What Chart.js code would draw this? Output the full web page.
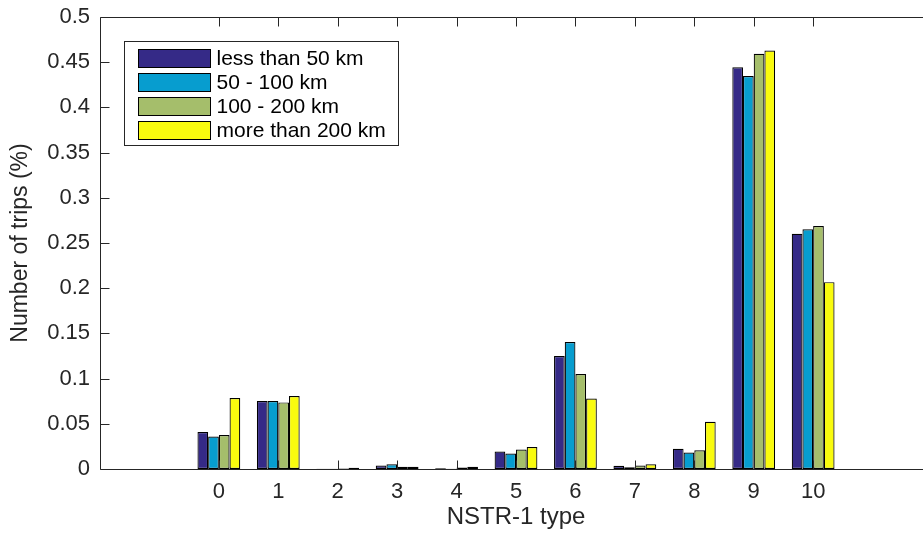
<!DOCTYPE html>
<html>
<head>
<meta charset="utf-8">
<script src="https://cdn.jsdelivr.net/npm/chart.js@4.4.1/dist/chart.umd.min.js"></script>
<style>
html, body { margin: 0; padding: 0; background: #fff; overflow: hidden; }
#wrap { width: 923px; height: 536px; overflow: hidden; }
</style>
</head>
<body>
<div id="wrap"><canvas id="myChart" width="935" height="536"></canvas></div>
<script>
// NSTR-1 goods type on the x axis
const categories = [0, 1, 2, 3, 4, 5, 6, 7, 8, 9, 10];
const seriesNames = ['less than 50 km', '50 - 100 km', '100 - 200 km', 'more than 200 km'];
const seriesColors = ['#352a87', '#079dcf', '#a5be6b', '#f9fb0e'];

// share of trips per distance class
const lessThan50 = [0.0408, 0.0751, 0.0004, 0.0039, 0.0007, 0.0194, 0.125, 0.0035, 0.0224, 0.4443, 0.2602];
const from50to100 = [0.036, 0.0751, 0.0003, 0.0053, 0.0004, 0.0172, 0.1405, 0.002, 0.0183, 0.4347, 0.2651];
const from100to200 = [0.0375, 0.0737, 0.0006, 0.0024, 0.0017, 0.0216, 0.105, 0.0039, 0.0208, 0.4593, 0.2688];
const moreThan200 = [0.0785, 0.0807, 0.0015, 0.0024, 0.0024, 0.0242, 0.078, 0.0053, 0.0523, 0.463, 0.2067];

const yTicks = [0, 0.05, 0.1, 0.15, 0.2, 0.25, 0.3, 0.35, 0.4, 0.45, 0.5];
const yTickLabels = ['0', '0.05', '0.1', '0.15', '0.2', '0.25', '0.3', '0.35', '0.4', '0.45', '0.5'];

const axisColor = '#262626';
const fontFamily = '"Liberation Sans", Arial, Helvetica, sans-serif';
Chart.defaults.font.family = fontFamily;
Chart.defaults.font.size = 22;
Chart.defaults.color = axisColor;

const allSeries = [lessThan50, from50to100, from100to200, moreThan200];
const datasets = allSeries.map((vals, i) => ({
    label: seriesNames[i],
    data: categories.map((c, j) => ({x: c, y: vals[j]})),
    backgroundColor: seriesColors[i],
    borderColor: '#000',
    borderWidth: 1.2,
    borderSkipped: false,
    categoryPercentage: 0.72,
    barPercentage: 1.0
}));

// matlab style box with inward ticks
const axisBox = {
    id: 'axisBox',
    afterDatasetsDraw(chart) {
        const {ctx, chartArea: a, scales: {x, y}} = chart;
        const tl = 9;
        const L = Math.round(a.left) + 0.5, R = Math.round(a.right) + 0.5;
        const T = Math.round(a.top) + 0.5, B = Math.round(a.bottom) + 0.5;
        ctx.save();
        ctx.strokeStyle = axisColor;
        ctx.lineWidth = 1;
        ctx.beginPath();
        ctx.moveTo(L, T); ctx.lineTo(R, T); ctx.lineTo(R, B); ctx.lineTo(L, B); ctx.closePath();
        x.ticks.forEach(t => {
            const px = Math.round(x.getPixelForValue(t.value)) + 0.5;
            ctx.moveTo(px, B); ctx.lineTo(px, B - tl);
            ctx.moveTo(px, T); ctx.lineTo(px, T + tl);
        });
        y.ticks.forEach(t => {
            const py = Math.round(y.getPixelForValue(t.value)) + 0.5;
            ctx.moveTo(L, py); ctx.lineTo(L + tl, py);
            ctx.moveTo(R, py); ctx.lineTo(R - tl, py);
        });
        ctx.stroke();
        ctx.restore();
    }
};

// legend box drawn inside the axes, top left
const boxLegend = {
    id: 'boxLegend',
    afterDraw(chart) {
        const {ctx, chartArea: a} = chart;
        const bx = Math.round(a.left + 24) + 0.5, by = Math.round(a.top + 24) + 0.5;
        const bw = 274, bh = 104;
        ctx.save();
        ctx.fillStyle = '#fff';
        ctx.fillRect(bx, by, bw, bh);
        ctx.strokeStyle = axisColor;
        ctx.lineWidth = 1;
        ctx.strokeRect(bx, by, bw, bh);
        ctx.font = '21px ' + fontFamily;
        ctx.textBaseline = 'middle';
        ctx.textAlign = 'left';
        chart.data.datasets.forEach((ds, i) => {
            const sx = bx + 14, sy = by + 8 + i * 24;
            ctx.fillStyle = ds.backgroundColor;
            ctx.fillRect(sx, sy, 72, 18);
            ctx.strokeStyle = '#000';
            ctx.strokeRect(sx, sy, 72, 18);
            ctx.fillStyle = '#000';
            ctx.fillText(ds.label, sx + 78, sy + 10);
        });
        ctx.restore();
    }
};

const ctx = document.getElementById('myChart').getContext('2d');
const myChart = new Chart(ctx, {
    type: 'bar',
    data: {datasets: datasets},
    options: {
        responsive: false,
        animation: false,
        layout: {padding: {top: 17, right: 3, left: 0, bottom: 0}},
        plugins: {legend: {display: false}, tooltip: {enabled: false}},
        scales: {
            x: {
                type: 'linear',
                min: -2,
                max: 12,
                offset: false,
                grid: {display: false, drawTicks: false, offset: false},
                border: {display: false},
                afterBuildTicks: (s) => { s.ticks = categories.map(v => ({value: v})); },
                afterFit: (s) => { s.height = 67; s.paddingLeft = 0; s.paddingRight = 0; },
                ticks: {padding: 10, maxRotation: 0, autoSkip: false, callback: (v) => String(v)},
                title: {display: true, text: 'NSTR-1 type', font: {size: 24}, padding: {top: 0, bottom: 4}}
            },
            y: {
                min: 0,
                max: 0.5,
                grid: {display: false, drawTicks: false},
                border: {display: false},
                afterBuildTicks: (s) => { s.ticks = yTicks.map(v => ({value: v})); },
                afterFit: (s) => { s.width = 100; s.paddingTop = 0; s.paddingBottom = 0; },
                ticks: {padding: 10, callback: (v, i) => yTickLabels[i]},
                title: {display: true, text: 'Number of trips (%)', font: {size: 23}, padding: {top: 7, bottom: 0}}
            }
        }
    },
    plugins: [axisBox, boxLegend]
});
</script>
</body>
</html>
